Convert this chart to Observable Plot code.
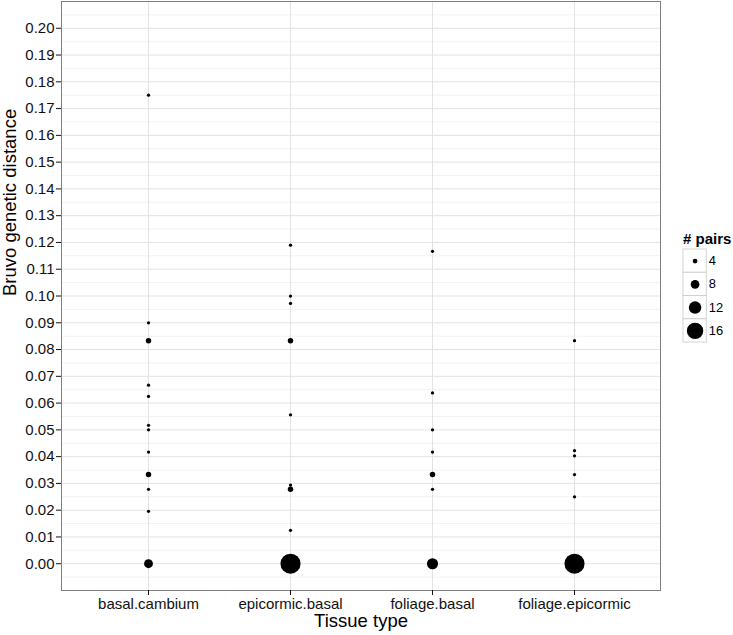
<!DOCTYPE html>
<html>
<head>
<meta charset="utf-8">
<script src="https://cdn.jsdelivr.net/npm/d3@7"></script>
<script src="https://cdn.jsdelivr.net/npm/@observablehq/plot@0.6"></script>
<style>
  html, body { margin: 0; padding: 0; background: white; }
  #wrap { position: relative; width: 733px; height: 635px; font-family: Helvetica, "Liberation Sans", Arial, sans-serif; }
  #main { position: absolute; left: 0; top: 0; }
  #legendTitle { position: absolute; left: 683px; top: 230px; font-size: 15px; font-weight: bold; color: #000; white-space: nowrap; }
  #legend { position: absolute; left: 683px; top: 249px; }
</style>
</head>
<body>
<div id="wrap">
  <div id="main"></div>
  <div id="legendTitle"># pairs</div>
  <div id="legend"></div>
</div>
<script>
const categories = ["basal.cambium", "epicormic.basal", "foliage.basal", "foliage.epicormic"];

const tissue = [
  "basal.cambium","basal.cambium","basal.cambium","basal.cambium","basal.cambium","basal.cambium",
  "basal.cambium","basal.cambium","basal.cambium","basal.cambium","basal.cambium","basal.cambium",
  "epicormic.basal","epicormic.basal","epicormic.basal","epicormic.basal","epicormic.basal",
  "epicormic.basal","epicormic.basal","epicormic.basal","epicormic.basal",
  "foliage.basal","foliage.basal","foliage.basal","foliage.basal","foliage.basal","foliage.basal","foliage.basal",
  "foliage.epicormic","foliage.epicormic","foliage.epicormic","foliage.epicormic","foliage.epicormic","foliage.epicormic"
];
const distance = [
  0.175, 0.09, 0.0833, 0.0667, 0.0625, 0.0517, 0.05, 0.0417, 0.0333, 0.0278, 0.0196, 0,
  0.119, 0.1, 0.0972, 0.0833, 0.0556, 0.0294, 0.0278, 0.0125, 0,
  0.1167, 0.0638, 0.05, 0.0417, 0.0333, 0.0278, 0,
  0.0833, 0.0422, 0.0403, 0.0333, 0.025, 0
];
const pairs = [
  2, 2, 4, 2, 2, 2, 2, 2, 4, 2, 2, 7,
  2, 2, 2, 4, 2, 2, 4, 2, 17,
  2, 2, 2, 2, 4, 2, 9,
  2, 2, 2, 2, 2, 17
];

const yTicks = [0, 0.01, 0.02, 0.03, 0.04, 0.05, 0.06, 0.07, 0.08, 0.09, 0.10,
                0.11, 0.12, 0.13, 0.14, 0.15, 0.16, 0.17, 0.18, 0.19, 0.20];
const yMinorTicks = [-0.005, 0.005, 0.015, 0.025, 0.035, 0.045, 0.055, 0.065, 0.075, 0.085, 0.095,
                     0.105, 0.115, 0.125, 0.135, 0.145, 0.155, 0.165, 0.175, 0.185, 0.195, 0.205];
const legendVals = [4, 8, 12, 16];

const points = tissue.map((t, i) => ({tissue: t, distance: distance[i], pairs: pairs[i]}));

const rScale = {type: "linear", domain: [0, 16], range: [0.5, 9.5]};
const font = 'Helvetica, "Liberation Sans", Arial, sans-serif';

const main = Plot.plot({
  width: 665,
  height: 635,
  marginLeft: 61,
  marginRight: 5,
  marginTop: 1,
  marginBottom: 45,
  style: {fontFamily: font, background: "white", color: "black"},
  x: {type: "point", domain: categories, padding: 0.6},
  y: {domain: [-0.01, 0.21]},
  r: rScale,
  marks: [
    Plot.gridY(yMinorTicks, {stroke: "#f2f2f2", strokeOpacity: 1}),
    Plot.gridY(yTicks, {stroke: "#e3e3e3", strokeOpacity: 1}),
    Plot.gridX(categories, {stroke: "#e3e3e3", strokeOpacity: 1}),
    Plot.frame({stroke: "#7f7f7f"}),
    Plot.dot(points, {x: "tissue", y: "distance", r: "pairs", fill: "black", stroke: "none"}),
    Plot.axisY(yTicks, {tickFormat: d => d.toFixed(2), fontSize: 15, tickSize: 5, tickPadding: 2, label: null, color: "#111"}),
    Plot.axisX(categories, {fontSize: 15, tickSize: 5, tickPadding: 3, label: null, color: "#111"}),
    Plot.text(["Tissue type"], {text: d => d, frameAnchor: "bottom", dy: 36, fontSize: 18.5, fill: "black"}),
    Plot.text(["Bruvo genetic distance"], {text: d => d, frameAnchor: "left", rotate: -90, dx: -51, fontSize: 18.5, fill: "black"})
  ]
});
document.getElementById("main").appendChild(main);

const legend = Plot.plot({
  width: 58,
  height: 108,
  marginLeft: 0,
  marginRight: 31,
  marginTop: 0,
  marginBottom: 0,
  style: {fontFamily: font, background: "transparent", overflow: "visible"},
  x: {type: "band", domain: ["k"], padding: 0, axis: null},
  y: {type: "band", domain: legendVals, padding: 0, axis: null},
  r: rScale,
  marks: [
    Plot.cell(legendVals, {x: () => "k", y: d => d, fill: "white", stroke: "#cccccc"}),
    Plot.dot(legendVals, {x: () => "k", y: d => d, r: d => d, fill: "black", stroke: "none"}),
    Plot.text(legendVals, {x: () => "k", y: d => d, text: d => String(d), dx: 16, textAnchor: "start", fontSize: 15, fill: "black"})
  ]
});
document.getElementById("legend").appendChild(legend);
</script>
</body>
</html>
